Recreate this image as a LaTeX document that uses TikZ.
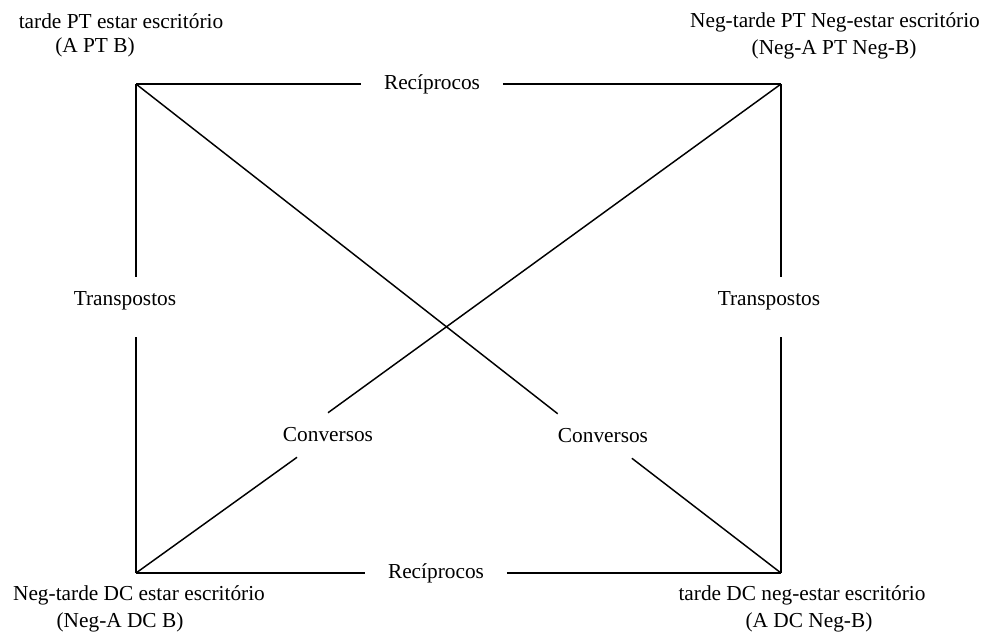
\documentclass[tikz,border=0pt]{standalone}
\usepackage{fontspec}
\setmainfont{Liberation Serif}
\usepackage{tikz}
\usetikzlibrary{
	calc,
	positioning
}

\begin{document}
\begin{tikzpicture}[x=0.75pt, y=-0.75pt,
		lado/.style={line width=1.1pt, black},
		texto/.style={font=\fontsize{16}{19}\selectfont, inner sep=0pt},
		rec/.style={texto, minimum width=106pt},
		trans/.style={texto, minimum height=45pt, text depth=13pt},
		conv/.style={texto, minimum height=33pt}]
		\useasboundingbox (0,0) rectangle (987,633);
		\coordinate (tl) at (136,84);
		\coordinate (tr) at (781,84);
		\coordinate (bl) at (136,573);
		\coordinate (br) at (781,573);
		% rotulos das relacoes
		\node[rec] (recSup) at (432,84) {Recíprocos};
		\node[rec] (recInf) at (436,573) {Recíprocos};
		\node[trans] (transEsq) at (125,307) {Transpostos};
		\node[trans] (transDir) at (769,307) {Transpostos};
		\node[conv] (convEsq) at (328,435) {Conversos};
		\node[conv] (convDir) at (603,436) {Conversos};
		% cantos
		\node[texto] (tl1) at (121,21) {tarde PT estar escritório};
		\node[texto] (tl2) at (95,47) {(A PT B)};
		\node[texto] (tr1) at (835,22) {Neg-tarde PT Neg-estar escritório};
		\node[texto] (tr2) at (834,49) {(Neg-A PT Neg-B)};
		\node[texto] (bl1) at (139,595) {Neg-tarde DC estar escritório};
		\node[texto] (bl2) at (120,622) {(Neg-A DC B)};
		\node[texto] (br1) at (802,595) {tarde DC neg-estar escritório};
		\node[texto] (br2) at (809,622) {(A DC Neg-B)};
		\draw[lado] (tl) -- (recSup) -- (tr);
		\draw[lado] (bl) -- (recInf) -- (br);
		\draw[lado] (tl) -- (tl |- transEsq.north);
		\draw[lado] (transEsq.south -| bl) -- (bl);
		\draw[lado] (tr) -- (tr |- transDir.north);
		\draw[lado] (transDir.south -| br) -- (br);
		\draw[lado] (tl) -- (convDir.north west);
		\draw[lado] (convDir) -- (br);
		\draw[lado] (tr) -- (convEsq.north);
		\draw[lado] (convEsq) -- (bl);
	\end{tikzpicture}
\end{document}
